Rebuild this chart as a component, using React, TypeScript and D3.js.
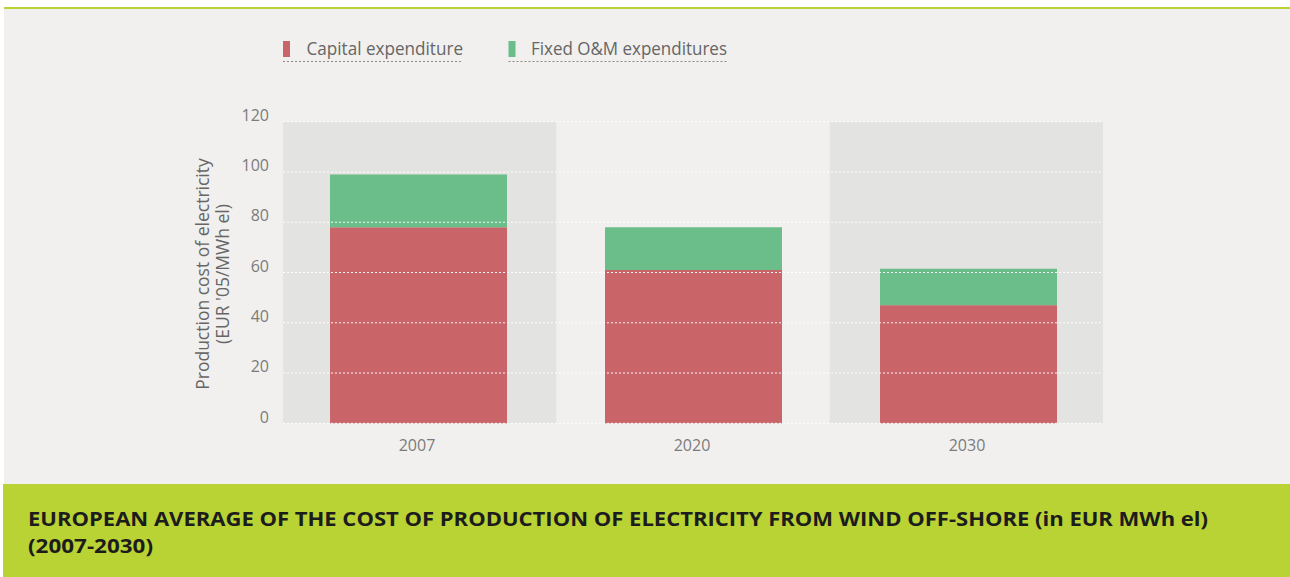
import React from "react";
import * as d3 from "d3";

const years = ["2007", "2020", "2030"];
const capital = [78, 61, 47];
const fixedOM = [21, 17, 14.5];
const yTicks = [0, 20, 40, 60, 80, 100, 120];
const seriesNames = ["Capital expenditure", "Fixed O&M expenditures"];
const seriesColors = ["#c96569", "#6bbd89"];
const titleLines = [
  "EUROPEAN AVERAGE OF THE COST OF PRODUCTION OF ELECTRICITY FROM WIND OFF-SHORE (in EUR MWh el)",
  "(2007-2030)",
];
const yTitle = ["Production cost of electricity", "(EUR '05/MWh el)"];

const W = 1290;
const H = 577;
const FONT = "'Open Sans', 'Noto Sans', sans-serif";

export default function App() {
  const x = d3.scaleBand<string>().domain(years).range([283, 1103]).padding(0);
  const xc = d3.scalePoint<string>().domain(years).range([418.5, 968.5]);
  const y = d3.scaleLinear().domain([0, 120]).range([423.3, 121.7]);
  const barW = 177;

  const rows = years.map((yr, i) => ({ year: yr, capital: capital[i], om: fixedOM[i] }));
  const stacked = d3.stack<any>().keys(["capital", "om"])(rows);

  return (
    <svg width={W} height={H} style={{ position: "absolute", left: 0, top: 0, display: "block" }}>
      <rect x={0} y={0} width={W} height={H} fill="#ffffff" />
      <rect x={4} y={9} width={W - 4} height={475} fill="#f1f0ee" />
      <rect x={4} y={7} width={W - 4} height={2} fill="#b9d234" />

      {/* alternating band shading */}
      {years.map((yr, i) =>
        i % 2 === 0 ? (
          <rect key={yr} x={x(yr)} y={y(120)} width={x.bandwidth()} height={y(0) - y(120)} fill="#e3e3e1" />
        ) : null
      )}

      {/* bars */}
      {stacked.map((s, si) =>
        s.map((d, i) => (
          <rect
            key={`${si}-${i}`}
            x={(xc(years[i]) as number) - barW / 2}
            y={y(d[1])}
            width={barW}
            height={y(d[0]) - y(d[1])}
            fill={seriesColors[si]}
          />
        ))
      )}

      {/* gridlines */}
      {yTicks.map((t) => (
        <line
          key={t}
          x1={283}
          x2={1103}
          y1={y(t)}
          y2={y(t)}
          stroke="#ffffff"
          strokeWidth={1}
          strokeDasharray="2,2"
          opacity={0.95}
        />
      ))}

      {/* y tick labels */}
      {yTicks.map((t) => (
        <text
          key={t}
          x={269}
          y={y(t)}
          dy="-0.05em"
          textAnchor="end"
          fontFamily={FONT}
          fontSize={16}
          fill="#7b7b7b"
        >
          {t}
        </text>
      ))}

      {/* y title */}
      <g transform={`translate(0, ${(y(0) + y(120)) / 2 + 1.5}) rotate(-90)`}>
        <text x={0} y={209} textAnchor="middle" fontFamily={FONT} fontSize={17.5} fill="#666666">
          {yTitle[0]}
        </text>
        <text x={0} y={229} textAnchor="middle" fontFamily={FONT} fontSize={17.5} fill="#666666">
          {yTitle[1]}
        </text>
      </g>

      {/* x labels */}
      {years.map((yr) => (
        <text
          key={yr}
          x={(xc(yr) as number) - 1.5}
          y={451}
          textAnchor="middle"
          fontFamily={FONT}
          fontSize={16}
          fill="#7b7b7b"
        >
          {yr}
        </text>
      ))}

      {/* legend */}
      {[
        { x0: 283, tx: 306.5, end: 463 },
        { x0: 508.5, tx: 531, end: 727 },
      ].map((l, i) => (
        <g key={i}>
          <rect x={l.x0} y={41} width={7} height={16} fill={seriesColors[i]} />
          <text
            x={l.tx}
            y={54.5}
            fontFamily={FONT}
            fontSize={18}
            fill="#666666"
            textLength={l.end - l.tx}
            lengthAdjust="spacingAndGlyphs"
          >
            {seriesNames[i]}
          </text>
          <line x1={l.x0} x2={l.end} y1={61.5} y2={61.5} stroke="#8a8a8a" strokeWidth={1} strokeDasharray="2,2" />
        </g>
      ))}

      {/* title band */}
      <rect x={3} y={484} width={W - 3} height={H - 484} fill="#b9d234" />
      <text
        x={28}
        y={526}
        fontFamily={FONT}
        fontWeight="bold"
        fontSize={20}
        fill="#1c1c1c"
        textLength={1180}
        lengthAdjust="spacingAndGlyphs"
      >
        {titleLines[0]}
      </text>
      <text
        x={28}
        y={553}
        fontFamily={FONT}
        fontWeight="bold"
        fontSize={20}
        fill="#1c1c1c"
        textLength={125}
        lengthAdjust="spacingAndGlyphs"
      >
        {titleLines[1]}
      </text>
    </svg>
  );
}
